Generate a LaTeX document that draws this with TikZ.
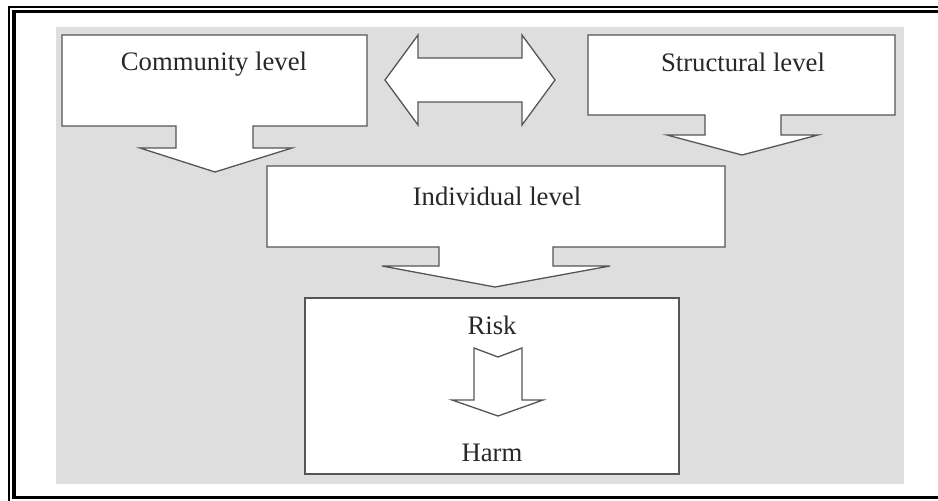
\documentclass[tikz,border=0pt]{standalone}
\usepackage{fontspec}
\setmainfont{Liberation Serif}
\definecolor{bgray}{RGB}{222,222,222}
\definecolor{edge}{RGB}{85,85,85}
\definecolor{txt}{RGB}{40,40,40}
\begin{document}
\begin{tikzpicture}[x=1pt,y=-1pt,
  shapebox/.style={draw=edge,fill=white,line width=1.3pt,line join=miter},
  lbl/.style={inner sep=0pt,text=txt,font=\fontsize{26.7}{30}\selectfont}]
\useasboundingbox (0,0) rectangle (938,501);
% frame
\draw[line width=1.7pt] (8.8,501) -- (8.8,6.7) -- (938,6.7);
\draw[line width=3.3pt] (938,11.8) -- (14,11.8) -- (14,497.5) -- (938,497.5);
% grey panel
\fill[bgray] (56,27) rectangle (904,484);
% community level callout
\draw[shapebox] (62,35) -- (367,35) -- (367,126) -- (253,126) -- (253,148) -- (292,148)
  -- (215,172) -- (140,148) -- (176,148) -- (176,126) -- (62,126) -- cycle;
% structural level callout
\draw[shapebox] (588,35) -- (895,35) -- (895,115) -- (781,115) -- (781,135) -- (818,135)
  -- (742,155) -- (667,135) -- (705,135) -- (705,115) -- (588,115) -- cycle;
% double arrow
\draw[shapebox] (385,80) -- (418,35) -- (418,58) -- (522,58) -- (522,35) -- (555,80)
  -- (522,125) -- (522,102) -- (418,102) -- (418,125) -- cycle;
% individual level callout
\draw[shapebox] (267,166) -- (725,166) -- (725,247) -- (553,247) -- (553,266) -- (610,266)
  -- (495,287) -- (382,266) -- (439,266) -- (439,247) -- (267,247) -- cycle;
% risk / harm box
\draw[shapebox] (305,298) rectangle (679,474);
\draw[shapebox] (474,348) -- (498,357) -- (522,348) -- (522,400) -- (543,400)
  -- (498,416) -- (452,400) -- (474,400) -- cycle;
% labels
\node[lbl] (community) at (214,64) {Community level};
\node[lbl] (structural) at (743,62) {Structural level};
\node[lbl] (individual) at (497,196) {Individual level};
\node[lbl] (risk) at (492,325) {Risk};
\node[lbl] (harm) at (492,453) {Harm};
\end{tikzpicture}
\end{document}
